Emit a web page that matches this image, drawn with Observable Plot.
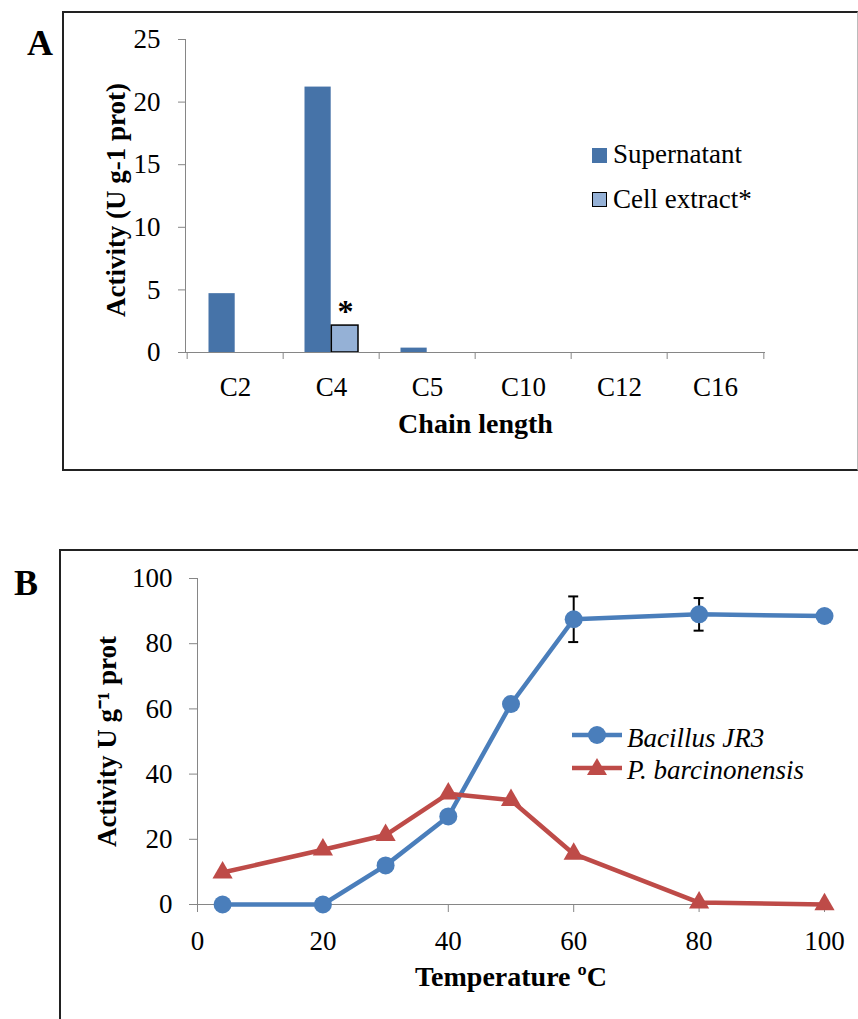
<!DOCTYPE html>
<html><head><meta charset="utf-8">
<script src="https://cdn.jsdelivr.net/npm/d3@7"></script>
<script src="https://cdn.jsdelivr.net/npm/@observablehq/plot@0.6"></script>
<style>
body{margin:0;background:#fff;}
#wrap{position:relative;width:858px;height:1019px;overflow:hidden;font-family:"Liberation Serif","Times New Roman",serif;color:#000;}
.abs{position:absolute;}
.lg{position:absolute;font-size:27px;line-height:27px;white-space:nowrap;}
.letter{position:absolute;font-size:36px;line-height:36px;font-weight:bold;}
</style></head><body><div id="wrap">
<div class="abs" style="left:62px;top:11px;width:796px;height:460px;box-sizing:border-box;border:2px solid #222;border-right:1px solid #bbb;"></div>
<div class="abs" style="left:59px;top:549px;width:900px;height:600px;box-sizing:border-box;border-left:2px solid #222;border-top:2px solid #222;"></div>
<div id="plotA" class="abs" style="left:0;top:0;"></div>
<div id="plotB" class="abs" style="left:0;top:470px;"></div>
<div class="letter" style="left:27px;top:25px;">A</div>
<div class="letter" style="left:14px;top:565px;">B</div>
<div class="abs" style="left:592px;top:148px;width:15px;height:15px;background:#4673A8;"></div>
<div class="lg" style="left:613px;top:141px;">Supernatant</div>
<div class="abs" style="left:592px;top:192px;width:15px;height:15px;box-sizing:border-box;background:#95B1D6;border:1.5px solid #000;"></div>
<div class="lg" style="left:613px;top:186px;">Cell extract*</div>
<svg class="abs" style="left:570px;top:722px;" width="56" height="60">
  <line x1="2" x2="52" y1="13" y2="13" stroke="#4a7ebb" stroke-width="4.5"/>
  <circle cx="27" cy="13" r="9" fill="#4a7ebb"/>
  <line x1="2" x2="52" y1="46" y2="46" stroke="#be4b48" stroke-width="4.5"/>
  <path d="M27,36 L37,53 L17,53 Z" fill="#be4b48"/>
</svg>
<div class="lg" style="left:627px;top:725px;font-style:italic;">Bacillus JR3</div>
<div class="lg" style="left:627px;top:757px;font-style:italic;">P. barcinonensis</div>
</div>
<script>
// ---- Panel A data ----
const chainLengths = ["C2", "C4", "C5", "C10", "C12", "C16"];
const supernatant = [4.7, 21.2, 0.35, 0, 0, 0];
const cellExtract = [0, 2.15, 0, 0, 0, 0];
const activityTicksA = [0, 5, 10, 15, 20, 25];

// ---- Panel B data ----
const temperatures = [4, 20, 30, 40, 50, 60, 80, 100];
const bacillusJR3 = [0, 0, 12, 27, 61.5, 87.5, 89, 88.5];
const bacillusErr = [0, 0, 0, 0, 0, 7, 5, 0];
const pBarcinonensis = [9.8, 16.8, 21.3, 34, 32, 15.5, 0.6, 0];
const tempTicks = [0, 20, 40, 60, 80, 100];
const activityTicksB = [0, 20, 40, 60, 80, 100];

const font = '"Liberation Serif","Times New Roman",serif';
const axisGray = "#868686";
const blue = "#4a7ebb", red = "#be4b48";

const supRows = chainLengths.map((c, i) => ({chain: c, value: supernatant[i]}));
const cellRows = chainLengths.map((c, i) => ({chain: c, value: cellExtract[i]})).filter(d => d.value > 0);
const starRows = cellRows.map(d => ({...d, label: "*"}));

const widthA = 858, mLA = 185, mRA = 93;
const bw = (widthA - mLA - mRA) / chainLengths.length;

const plotA = Plot.plot({
  width: widthA, height: 470,
  marginLeft: mLA, marginRight: mRA, marginTop: 39, marginBottom: 118,
  style: {fontFamily: font, fontSize: "27px", background: "transparent", color: "black", overflow: "visible"},
  x: {type: "band", domain: chainLengths, padding: 0, label: null},
  y: {domain: [0, 25], label: null},
  marks: [
    Plot.frame({anchor: "left", stroke: axisGray}),
    Plot.barY(supRows, {x: "chain", y: "value", fill: "#4673A8", insetLeft: 21.5, insetRight: 48.3}),
    Plot.barY(cellRows, {x: "chain", y: "value", fill: "#95B1D6", stroke: "black", strokeWidth: 1.5, insetLeft: 48.3, insetRight: 21}),
    Plot.ruleY([0], {stroke: axisGray}),
    Plot.axisY({ticks: activityTicksA, tickSize: 7, tickPadding: 18, stroke: axisGray, fill: "black", label: null}),
    Plot.axisX({tickSize: 0, tickPadding: 24, fill: "black", label: null}),
    Plot.axisX({tickSize: 7, tickFormat: () => "", dx: -bw / 2, stroke: axisGray, label: null}),
    Plot.axisX({ticks: [chainLengths[chainLengths.length - 1]], tickSize: 7, tickFormat: () => "", dx: bw / 2, stroke: axisGray, label: null}),
    Plot.text(starRows, {x: "chain", y: "value", text: "label", dx: 14, dy: -14, fontWeight: "bold", fontSize: 32, lineAnchor: "middle"}),
    Plot.text(["Activity (U g-1 prot)"], {frameAnchor: "left", text: d => d, rotate: -90, dx: -69, dy: 4, textAnchor: "middle", lineAnchor: "middle", fontWeight: "bold", fontSize: 27}),
    Plot.text(["Chain length"], {frameAnchor: "bottom", text: d => d, dy: 72, lineAnchor: "middle", fontWeight: "bold", fontSize: 28})
  ]
});
document.getElementById("plotA").append(plotA);

const bacRows = temperatures.map((t, i) => ({t, v: bacillusJR3[i], e: bacillusErr[i]}));
const errRows = bacRows.filter(d => d.e > 0);
const pbRows = temperatures.map((t, i) => ({t, v: pBarcinonensis[i]}));

const plotB = Plot.plot({
  width: 858, height: 549,
  marginLeft: 197, marginRight: 34, marginTop: 108, marginBottom: 115,
  style: {fontFamily: font, fontSize: "27px", background: "transparent", color: "black", overflow: "visible"},
  x: {domain: [0, 100], label: null},
  y: {domain: [0, 100], label: null},
  marks: [
    Plot.ruleX([0], {stroke: axisGray}),
    Plot.ruleY([0], {stroke: axisGray}),
    Plot.axisY({ticks: activityTicksB, tickSize: 8, tickPadding: 17, stroke: axisGray, fill: "black", label: null}),
    Plot.axisX({ticks: tempTicks, tickSize: 8, tickPadding: 18, stroke: axisGray, fill: "black", label: null}),
    Plot.line(bacRows, {x: "t", y: "v", stroke: blue, strokeWidth: 4.5}),
    Plot.ruleX(errRows, {x: "t", y1: d => d.v - d.e, y2: d => d.v + d.e, stroke: "black", strokeWidth: 2}),
    Plot.ruleY(errRows, {y: d => d.v + d.e, x1: "t", x2: "t", insetLeft: -5, insetRight: -5, stroke: "black", strokeWidth: 2}),
    Plot.ruleY(errRows, {y: d => d.v - d.e, x1: "t", x2: "t", insetLeft: -5, insetRight: -5, stroke: "black", strokeWidth: 2}),
    Plot.dot(bacRows, {x: "t", y: "v", r: 9, fill: blue, stroke: "none"}),
    Plot.line(pbRows, {x: "t", y: "v", stroke: red, strokeWidth: 4.5}),
    Plot.dot(pbRows, {x: "t", y: "v", symbol: "triangle", r: 7.5, fill: red, stroke: "none"}),
    Plot.text(["Activity U g\u207B\u00B9 prot"], {frameAnchor: "left", text: d => d, rotate: -90, dx: -90, textAnchor: "middle", lineAnchor: "middle", fontWeight: "bold", fontSize: 27}),
    Plot.text(["Temperature \u00BAC"], {frameAnchor: "bottom", text: d => d, dy: 73, lineAnchor: "middle", fontWeight: "bold", fontSize: 28})
  ]
});
document.getElementById("plotB").append(plotB);
</script>
</body></html>
